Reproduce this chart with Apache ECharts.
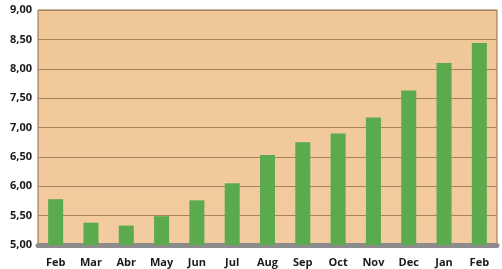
<!DOCTYPE html>
<html><head><meta charset="utf-8">
<script src="https://cdn.jsdelivr.net/npm/echarts@6/dist/echarts.min.js"></script>
<style>html,body{margin:0;padding:0;background:#fff}#c{width:502px;height:269px}</style>
</head><body><div id="c"></div>
<script>
const categories = ['Feb','Mar','Abr','May','Jun','Jul','Aug','Sep','Oct','Nov','Dec','Jan','Feb'];
const values = [5.78, 5.38, 5.33, 5.49, 5.76, 6.05, 6.53, 6.75, 6.90, 7.17, 7.63, 8.10, 8.44];
const chart = echarts.init(document.getElementById('c'));
chart.setOption({
  animation:false,
  backgroundColor:'#fff',
  grid:{left:38,right:5,top:10,bottom:24,show:true,
    backgroundColor:{type:'linear',x:0,y:0,x2:0,y2:1,colorStops:[{offset:0,color:'#F0C797'},{offset:1,color:'#F3CBA0'}]},
    borderColor:'#8a6d4a',borderWidth:1},
  xAxis:{type:'category',data:categories,
    axisLine:{show:true,lineStyle:{color:'#8C8C8C',width:5}},
    axisTick:{show:false},
    axisLabel:{color:'#1a1a1a',fontWeight:'bold',fontSize:11,fontFamily:'Open Sans, Liberation Sans, sans-serif',margin:12}},
  yAxis:{type:'value',min:5,max:9,interval:0.5,
    axisLine:{show:false},axisTick:{show:false},
    splitLine:{lineStyle:{color:'#A8825A',width:1}},
    axisLabel:{color:'#1a1a1a',fontWeight:'bold',fontSize:11,fontFamily:'Open Sans, Liberation Sans, sans-serif',margin:6,
      formatter:v=>v.toFixed(2).replace('.',',')}},
  series:[{type:'bar',data:values,barWidth:15,
    itemStyle:{color:'#5BAA4E'}}]
});
</script></body></html>
